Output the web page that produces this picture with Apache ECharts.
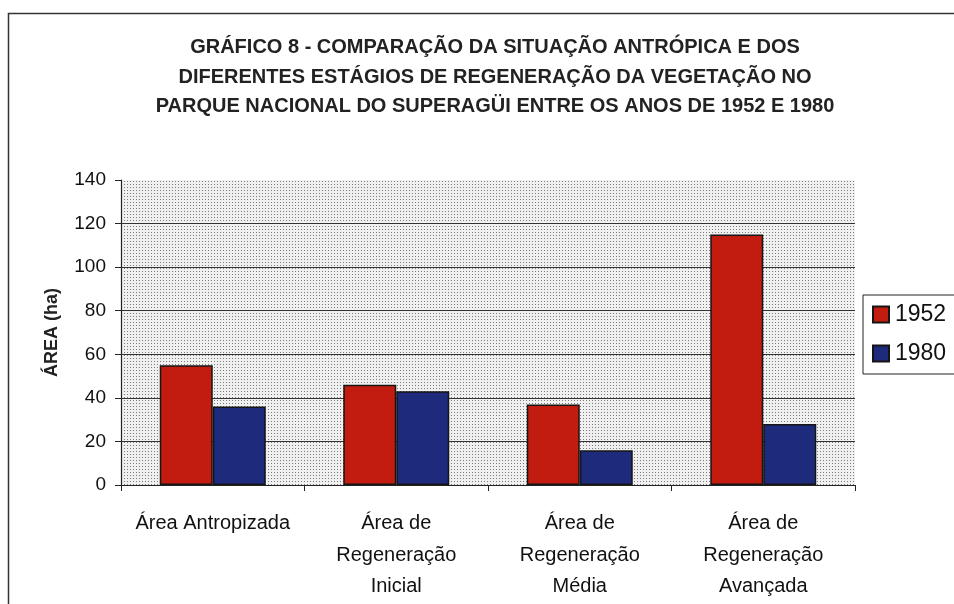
<!DOCTYPE html>
<html>
<head>
<meta charset="utf-8">
<script src="https://cdn.jsdelivr.net/npm/echarts@6/dist/echarts.min.js"></script>
<style>
  html, body { margin: 0; padding: 0; background: #fff; }
  #chart { width: 954px; height: 604px; }
</style>
</head>
<body>
<div id="chart"></div>
<script>
// dados do gráfico
const categorias = [
  'Área Antropizada',
  'Área de\nRegeneração\nInicial',
  'Área de\nRegeneração\nMédia',
  'Área de\nRegeneração\nAvançada'
]
const anos = ['1952', '1980']
const valores1952 = [55, 46, 37, 115]
const valores1980 = [36, 43, 16, 28]
const linhasGrade = [20, 40, 60, 80, 100, 120]

const titulo = 'GRÁFICO 8 - COMPARAÇÃO DA SITUAÇÃO ANTRÓPICA E DOS\n' +
  'DIFERENTES ESTÁGIOS DE REGENERAÇÃO DA VEGETAÇÃO NO\n' +
  'PARQUE NACIONAL DO SUPERAGÜI ENTRE OS ANOS DE 1952 E 1980'

// fundo pontilhado da área do gráfico
const makeDots = () => {
  const c = document.createElement('canvas')
  c.width = 3
  c.height = 3
  const ctx = c.getContext('2d')
  ctx.fillStyle = '#f0f0f0'
  ctx.fillRect(0, 0, 3, 3)
  ctx.fillStyle = '#7a7a7a'
  ctx.fillRect(1, 1, 1, 1)
  return c
}

const chart = echarts.init(document.getElementById('chart'))

const option = {
  backgroundColor: '#fff',
  animation: false,
  textStyle: { fontFamily: 'Liberation Sans, Arial, sans-serif', color: '#111' },
  title: {
    text: titulo,
    left: 490,
    textAlign: 'center',
    top: 28,
    textStyle: {
      fontSize: 20,
      fontWeight: 'bold',
      color: '#222',
      lineHeight: 29.5
    }
  },
  graphic: [
    {
      type: 'rect',
      shape: { x: 8.5, y: 13.5, width: 1000, height: 700 },
      style: { fill: 'none', stroke: '#333', lineWidth: 1.5 },
      silent: true
    }
  ],
  legend: {
    data: anos,
    orient: 'vertical',
    left: 863,
    top: 295,
    padding: [8, 30, 9, 9],
    itemGap: 16,
    itemWidth: 16,
    itemHeight: 16,
    icon: 'rect',
    borderColor: '#222',
    borderWidth: 1,
    textStyle: { fontSize: 23, color: '#111', padding: [0, 0, 0, 1] }
  },
  grid: {
    left: 121,
    right: 99,
    top: 180,
    bottom: 119,
    show: true,
    borderWidth: 0,
    backgroundColor: { image: makeDots(), repeat: 'repeat' }
  },
  xAxis: {
    type: 'category',
    data: categorias,
    axisLine: { lineStyle: { color: '#222', width: 1.2 } },
    axisTick: { show: true, length: 6, lineStyle: { color: '#222' } },
    axisLabel: {
      interval: 0,
      margin: 23,
      fontSize: 20,
      lineHeight: 31.5,
      color: '#111'
    }
  },
  yAxis: {
    type: 'value',
    min: 0,
    max: 140,
    interval: 20,
    name: 'ÁREA (ha)',
    nameLocation: 'middle',
    nameGap: 60,
    nameTextStyle: { fontSize: 18, fontWeight: 'bold', color: '#222' },
    axisLine: { show: true, lineStyle: { color: '#222', width: 1.2 } },
    axisTick: { show: true, inside: false, length: 6, lineStyle: { color: '#222' } },
    axisLabel: { fontSize: 19, color: '#111', margin: 15 },
    splitLine: { show: false }
  },
  series: [
    {
      name: anos[0],
      type: 'bar',
      data: valores1952,
      barWidth: 53,
      barGap: '0%',
      itemStyle: { color: '#c21c10', borderColor: '#151515', borderWidth: 1.5 },
      markLine: {
        silent: true,
        symbol: 'none',
        label: { show: false },
        lineStyle: { color: '#333', type: 'solid', width: 1.2 },
        z: 1,
        data: linhasGrade.map(v => ({ yAxis: v }))
      },
      z: 3
    },
    {
      name: anos[1],
      type: 'bar',
      data: valores1980,
      barWidth: 53,
      itemStyle: { color: '#1e2a7c', borderColor: '#151515', borderWidth: 1.5 },
      z: 3
    }
  ]
}

chart.setOption(option)
</script>
</body>
</html>
